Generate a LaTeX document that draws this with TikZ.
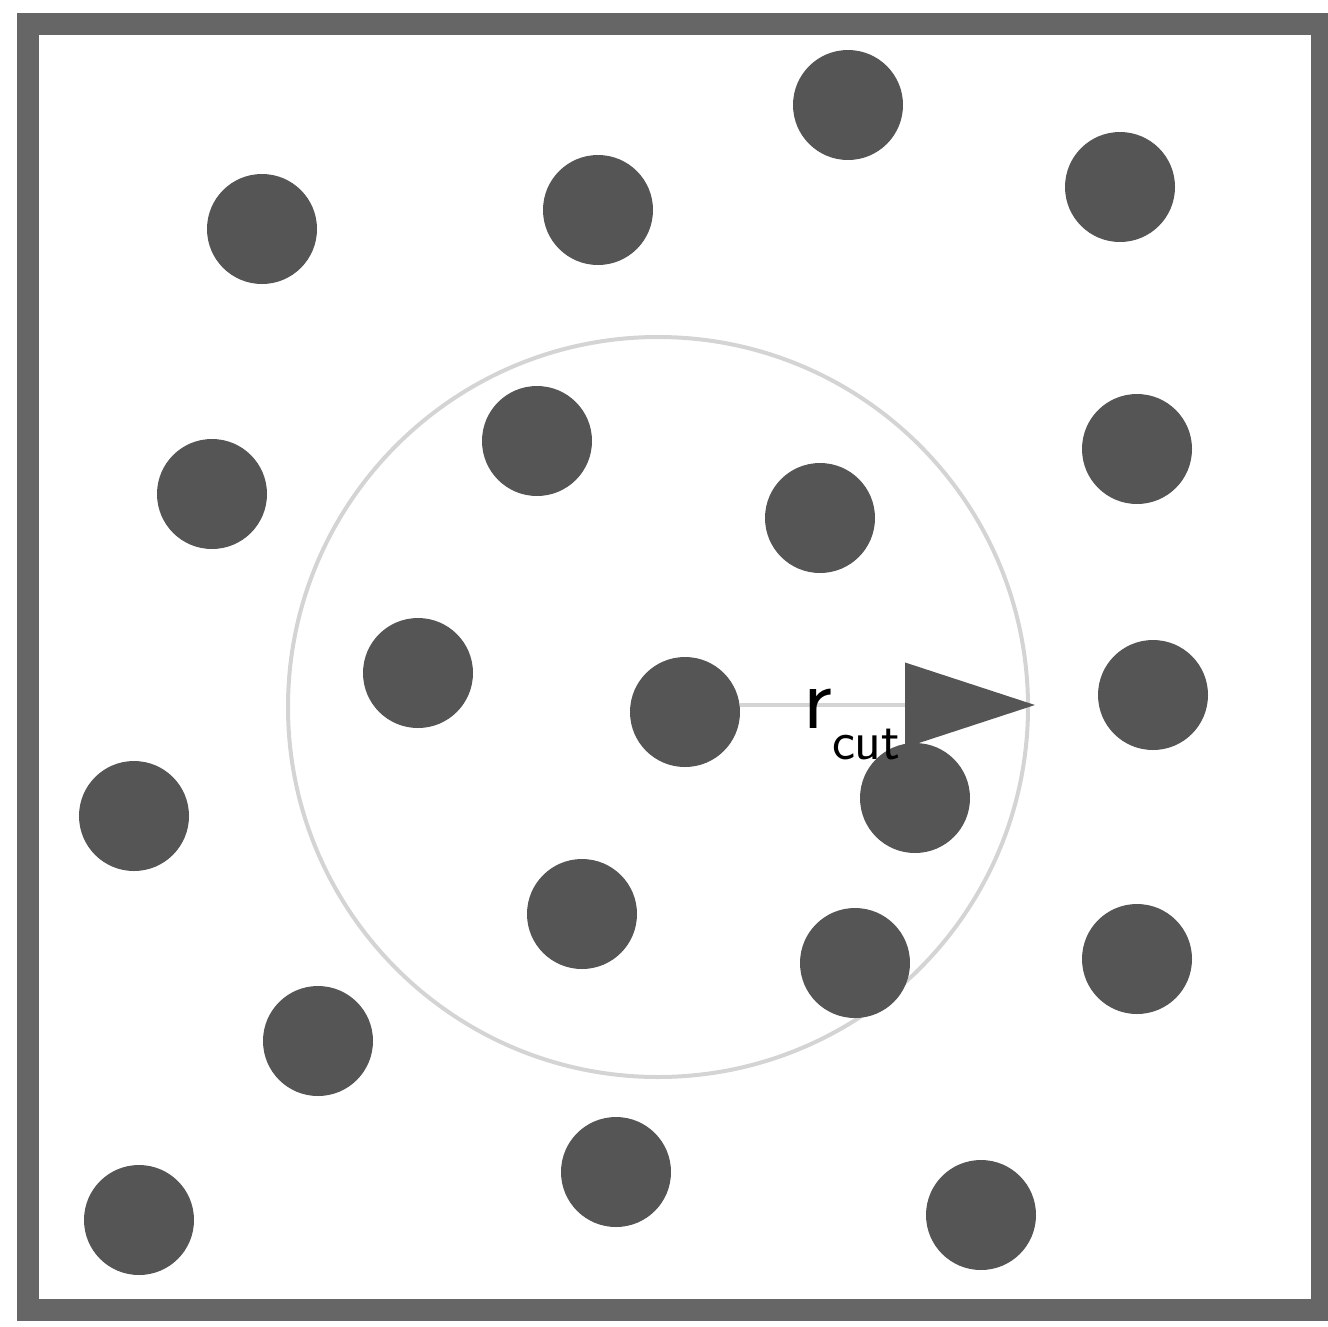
\documentclass[tikz,border=0pt]{standalone}
\usetikzlibrary{arrows.meta}
\definecolor{partc}{HTML}{555555}
\definecolor{framec}{HTML}{666666}
\definecolor{ringc}{HTML}{D4D4D4}
\tikzset{
  particle/.style={circle, fill=partc, minimum size=110pt, inner sep=0pt},
  ring/.style={draw=ringc, line width=4pt},
  frame/.style={draw=framec, line width=22pt},
}
\begin{document}
\begin{tikzpicture}[x=1pt,y=-1pt]
\useasboundingbox (0,0) rectangle (1328,1326);
\draw[frame] (28,24) rectangle (1322,1310);
\draw[ring] (658,707) circle (370);
\foreach \n/\x/\y in {1/848/105, 2/1120/187, 3/598/210, 4/262/229, 5/537/441,
  6/1137/449, 7/212/494, 8/820/518, 9/418/673, 10/685/712, 11/1153/695,
  12/134/816, 13/915/798, 14/582/914, 15/855/963, 16/1137/959, 17/318/1041,
  18/616/1172, 19/139/1220, 20/981/1215}
  \node[particle] (p\n) at (\x,\y) {};
\coordinate (tip) at (1035,705);
\draw[draw=ringc, line width=4pt, -{Triangle[length=130pt,width=84pt,color=partc]}] (p10.east |- tip) -- (tip);
\node[font=\sffamily\fontsize{90}{90}\selectfont, inner sep=0pt, anchor=base west] (lbl) at (803,728)
  {r\raisebox{-0.8ex}{\fontsize{55}{55}\selectfont cut}};
\end{tikzpicture}
\end{document}
